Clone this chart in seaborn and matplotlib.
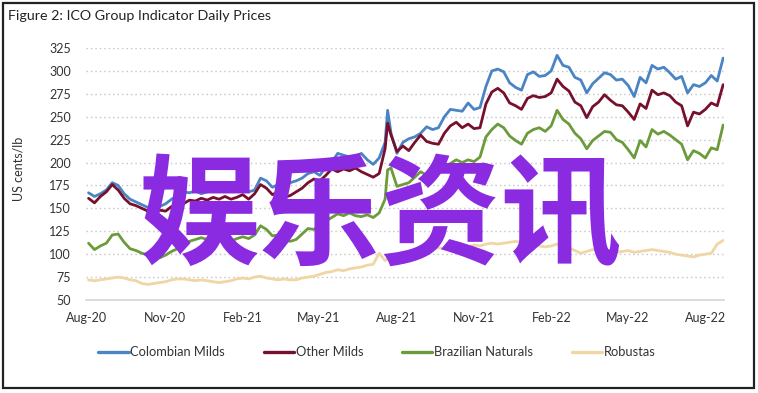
"""ICO group indicator daily prices, Aug-20 to Aug-22 (weekly reading of the chart)."""

import matplotlib
matplotlib.use("Agg")
import matplotlib.dates as mdates
import matplotlib.pyplot as plt
import pandas as pd
import seaborn as sns
from matplotlib.lines import Line2D

# weekly samples from 3 Aug 2020, plus the July 2021 frost spike
dates = list(pd.date_range("2020-08-03", periods=108, freq="7D"))
dates.insert(51, pd.Timestamp("2021-07-22"))

colombian = [
    167, 163, 166, 170, 178, 175, 166, 160, 157, 154,
    151, 149, 152, 155, 160, 164, 168, 167, 169, 166,
    168, 171, 170, 173, 171, 174, 172, 168, 170, 183,
    180, 173, 176, 172, 178, 180, 183, 188, 190, 186,
    195, 200, 210, 208, 206, 207, 210, 203, 198, 205,
    222, 257,
    232, 210, 222, 226, 228, 232, 239, 236, 238,
    250, 258, 257, 256, 265, 258, 260, 283, 300, 302,
    299, 287, 282, 279, 296, 299, 294, 295, 300, 317,
    306, 304, 293, 290, 276, 286, 292, 298, 296, 290,
    291, 284, 272, 293, 287, 306, 302, 304, 298, 291,
    294, 276, 285, 283, 287, 295, 289, 314,
]
other_milds = [
    161, 156, 163, 168, 176, 170, 161, 155, 153, 150,
    147, 146, 148, 147, 152, 150, 155, 159, 158, 161,
    159, 162, 160, 163, 160, 162, 165, 160, 166, 176,
    172, 165, 168, 162, 164, 168, 172, 178, 182, 180,
    186, 193, 190, 193, 191, 194, 190, 187, 184, 188,
    215, 243,
    230, 212, 218, 213, 222, 230, 223, 221, 220,
    232, 240, 244, 238, 242, 237, 238, 264, 277, 281,
    276, 265, 262, 258, 270, 273, 271, 272, 276, 291,
    283, 278, 266, 262, 249, 261, 266, 274, 268, 263,
    262, 255, 247, 264, 259, 279, 274, 276, 273, 266,
    262, 240, 255, 253, 258, 265, 262, 285,
]
brazilian = [
    112, 105, 109, 112, 121, 122, 113, 106, 104, 101,
    99, 97, 96, 99, 103, 106, 110, 114, 116, 118,
    116, 117, 115, 116, 114, 117, 119, 117, 121, 131,
    127, 120, 121, 116, 114, 116, 122, 128, 127, 132,
    136, 140, 144, 142, 145, 142, 141, 143, 140, 145,
    160, 192,
    194, 174, 176, 178, 184, 190, 186, 188, 189,
    196, 199, 203, 200, 203, 201, 206, 228, 236, 242,
    238, 229, 224, 220, 232, 236, 238, 234, 240, 257,
    247, 242, 232, 226, 215, 224, 229, 234, 233, 225,
    222, 214, 205, 224, 217, 236, 231, 234, 230, 225,
    220, 203, 213, 210, 205, 216, 214, 241,
]
robustas = [
    72, 71, 72, 73, 74, 75, 74, 72, 71, 68,
    67, 68, 69, 70, 72, 73, 73, 72, 71, 72,
    71, 70, 69, 70, 71, 73, 74, 73, 75, 76,
    74, 73, 72, 73, 72, 72, 74, 75, 76, 78,
    80, 81, 83, 82, 84, 85, 86, 88, 89, 101,
    93, 95,
    97, 100, 101, 103, 104, 103, 105, 106, 107,
    106, 108, 107, 109, 108, 110, 109, 111, 112, 111,
    112, 113, 114, 113, 112, 110, 109, 108, 109, 111,
    109, 107, 104, 101, 103, 105, 104, 103, 104, 102,
    103, 104, 102, 103, 104, 105, 104, 103, 102, 100,
    99, 98, 97, 99, 100, 101, 111, 115,
]

series_names = ["Colombian Milds", "Other Milds", "Brazilian Naturals", "Robustas"]
colors = ["#4a84c4", "#76102c", "#6b9b3b", "#efd6a4"]
y_ticks = [50, 75, 100, 125, 150, 175, 200, 225, 250, 275, 300, 325]

TEXT = "#333333"

sns.set_style("white")
plt.rcParams["font.family"] = ["Lato", "DejaVu Sans"]

df = pd.concat(
    [pd.DataFrame({"date": dates, "price": vals, "series": name})
     for name, vals in zip(series_names, [colombian, other_milds, brazilian, robustas])],
    ignore_index=True,
)

fig = plt.figure(figsize=(7.58, 3.93), dpi=100)
ax = fig.add_axes([86 / 758, 1 - 300 / 393, (724 - 86) / 758, (300 - 48) / 393])

sns.lineplot(data=df, x="date", y="price", hue="series", hue_order=series_names,
             palette=colors, linewidth=2.0, legend=False, ax=ax)

ax.set_ylim(50, 325)
ax.set_yticks(y_ticks)
ax.set_xlim(pd.Timestamp("2020-07-31"), pd.Timestamp("2022-08-23"))
ax.xaxis.set_major_locator(mdates.MonthLocator(bymonth=[2, 5, 8, 11]))
ax.xaxis.set_major_formatter(mdates.DateFormatter("%b-%y"))
ax.tick_params(length=0, labelsize=9, labelcolor=TEXT)
ax.tick_params(axis="y", pad=11)
ax.tick_params(axis="x", pad=9)

ax.yaxis.grid(True, linestyle=(0, (1, 2.2)), color="#c4c4c4", linewidth=1)
ax.xaxis.grid(False)
for side in ["left", "right", "top"]:
    ax.spines[side].set_visible(False)
ax.spines["bottom"].set_color("#d6d6d6")
ax.spines["bottom"].set_linewidth(1.2)

ax.set_xlabel("")
ax.set_ylabel("US cents/lb", fontsize=9, color=TEXT)
ax.yaxis.set_label_coords(-0.097, 0.52)

handles = [Line2D([0], [0], color=c, lw=2.4) for c in colors]
fig.legend(handles, series_names, loc="center", bbox_to_anchor=(377 / 758, 1 - 352 / 393),
           ncol=4, frameon=False, fontsize=9.25, handlelength=2.35, handletextpad=0.15,
           columnspacing=3.0, labelcolor=TEXT)

fig.text(8 / 758, 1 - 15.5 / 393, "Figure 2: ICO Group Indicator Daily Prices",
         fontsize=10.3, color="#222222", ha="left", va="center")

# frame round the whole figure
fig.add_artist(plt.Rectangle((2.5 / 758, 1 - 387.5 / 393), 751 / 758, 385 / 393,
                             transform=fig.transFigure, fill=False,
                             edgecolor="#222222", linewidth=1.6))

# overlaid caption
fig.text(381 / 758, 1 - 220 / 393, "娱乐资讯", fontsize=87, fontweight="bold",
         color="#8a2be2", ha="center", va="center",
         family=["Noto Sans CJK SC", "DejaVu Sans"], zorder=10)

fig.savefig("out.png", dpi=100)
